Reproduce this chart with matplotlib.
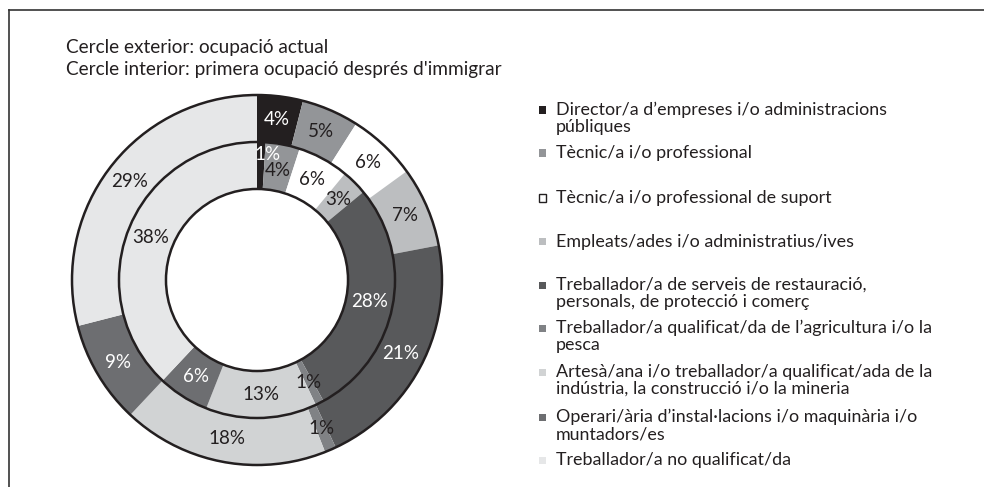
import matplotlib
matplotlib.use("Agg")
import matplotlib.pyplot as plt
import matplotlib.patches as mpatches
from matplotlib.lines import Line2D
import numpy as np

W, H = 984, 487
FONT = "Lato"
COR_TEXTO = "#231f20"

# Dades
categories = [
    "Director/a d’empreses i/o administracions\npúbliques",
    "Tècnic/a i/o professional",
    "Tècnic/a i/o professional de suport",
    "Empleats/ades i/o administratius/ives",
    "Treballador/a de serveis de restauració,\npersonals, de protecció i comerç",
    "Treballador/a qualificat/da de l’agricultura i/o la\npesca",
    "Artesà/ana i/o treballador/a qualificat/ada de la\nindústria, la construcció i/o la mineria",
    "Operari/ària d’instal·lacions i/o maquinària i/o\nmuntadors/es",
    "Treballador/a no qualificat/da",
]
colors = ["#231f20", "#939598", "#ffffff", "#bcbec0", "#58595b",
          "#808285", "#d1d3d4", "#6d6e71", "#e6e7e8"]
ocupacio_actual = [4, 5, 6, 7, 21, 1, 18, 9, 29]       # cercle exterior
primera_ocupacio = [1, 4, 6, 3, 28, 1, 13, 6, 38]      # cercle interior

titol = ["Cercle exterior: ocupació actual",
         "Cercle interior: primera ocupació després d'immigrar"]


def fx(x):
    return x / W


def fy(y):
    return 1 - y / H


def es_fosc(c):
    r, g, b = matplotlib.colors.to_rgb(c)
    return 0.299 * r + 0.587 * g + 0.114 * b < 0.47


fig = plt.figure(figsize=(W / 100, H / 100), dpi=100)
fig.patch.set_facecolor("white")

# marc (només dalt i esquerra visibles)
fig.add_artist(Line2D([fx(9), 1], [fy(10), fy(10)], transform=fig.transFigure,
                      color="#333333", lw=1.2))
fig.add_artist(Line2D([fx(9), fx(9)], [fy(10), 0], transform=fig.transFigure,
                      color="#333333", lw=1.2))

# títol
for i, linia in enumerate(titol):
    fig.text(fx(66), fy(47 + 22 * i), linia, fontsize=13.7, family=FONT,
             color=COR_TEXTO, va="center", ha="left")

# donut
cx, cy, R = 257, 280, 185
marge = 190
ax = fig.add_axes([fx(cx - marge), fy(cy + marge), 2 * marge / W, 2 * marge / H])
ample = 0.254
r_mig = 1 - ample
ax.pie(ocupacio_actual, radius=1, colors=colors, startangle=90, counterclock=False,
       wedgeprops=dict(width=ample, edgecolor="none", linewidth=0))
ax.pie(primera_ocupacio, radius=r_mig, colors=colors, startangle=90, counterclock=False,
       wedgeprops=dict(width=ample, edgecolor="none", linewidth=0))
for r in [1, r_mig, r_mig - ample]:
    ax.add_patch(mpatches.Circle((0, 0), r, fill=False, edgecolor=COR_TEXTO, lw=1.8))
ax.set_xlim(-marge / R, marge / R)
ax.set_ylim(-marge / R, marge / R)
ax.set_aspect("equal")
ax.axis("off")


def etiquetes(valors, radi, ajust=None):
    # ajust: {index: (radi, desplaçament angular en graus)}
    ajust = ajust or {}
    cum = np.cumsum([0] + valors)
    for i, v in enumerate(valors):
        mig = (cum[i] + cum[i + 1]) / 2
        rr, dang = ajust.get(i, (radi, 0))
        ang = np.deg2rad(90 - 360 * mig / 100 - dang)
        ax.text(rr * np.cos(ang), rr * np.sin(ang), f"{v}%", family=FONT,
                fontsize=13.5, ha="center", va="center",
                color="white" if es_fosc(colors[i]) else COR_TEXTO)


etiquetes(ocupacio_actual, 1 - ample / 2)
etiquetes(primera_ocupacio, r_mig - ample / 2, ajust={0: (0.68, 3), 1: (0.60, 0)})

# llegenda
ys = [110, 153, 198, 242, 285, 328, 372, 417, 460]
for cat, col, y in zip(categories, colors, ys):
    fig.add_artist(mpatches.Rectangle((fx(539), fy(y + 3.5)), 7 / W, 7 / H,
                                      transform=fig.transFigure, facecolor=col,
                                      edgecolor=COR_TEXTO if col == "#ffffff" else "none",
                                      lw=1.0))
    for j, linia in enumerate(cat.split("\n")):
        fig.text(fx(556), fy(y + 17 * j), linia, fontsize=12.9, family=FONT,
                 color=COR_TEXTO, va="center", ha="left")

fig.savefig("out.png", dpi=100)
